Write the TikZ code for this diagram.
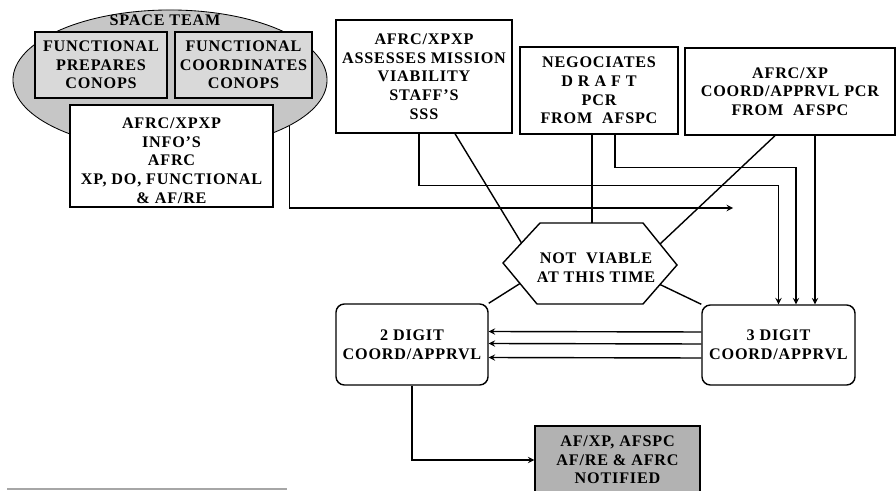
\documentclass[tikz,border=0pt]{standalone}
\usepackage{fontspec}
\setmainfont{Liberation Serif}[LetterSpace=5]
\usepackage{tikz}
\usetikzlibrary{calc, shapes.geometric, positioning}

\tikzset{
    box/.style={draw, line width=1pt, align=center, inner sep=1pt, fill=white},
    roundbox/.style={box, rounded corners=6pt},
    shadebox/.style={box, fill=gray!30},
    link/.style={line width=1pt},
}

\begin{document}
\begin{tikzpicture}[>=stealth, x=0.025cm, y=-0.025cm,
    font=\fontsize{11.5}{13.3}\selectfont\bfseries]
    \useasboundingbox (0,0) rectangle (896,491);

    % space team
    \node[ellipse, draw, line width=0.6pt, fill=gray!45, minimum width=7.85cm, minimum height=3.5cm] (team) at (170,80) {};
    \node (teamlbl) at (165,20) {SPACE TEAM};
    \node[shadebox, minimum width=3.3cm, minimum height=1.65cm] (fprep) at (101,65) {FUNCTIONAL\\PREPARES\\CONOPS};
    \node[shadebox, minimum width=3.425cm, minimum height=1.65cm] (fcoord) at (243.5,65) {FUNCTIONAL\\COORDINATES\\CONOPS};
    \node[box, minimum width=5.075cm, minimum height=2.55cm] (info) at (171.5,156) {\rule{0pt}{14pt}AFRC/XPXP\\INFO'S\\AFRC\\XP, DO, FUNCTIONAL\\\& AF/RE};

    % top row
    \node[box, minimum width=4.4cm, minimum height=2.825cm] (assess) at (424,76.5) {AFRC/XPXP\\ASSESSES MISSION\\VIABILITY\\STAFF'S\\SSS};
    \node[box, minimum width=3.95cm, minimum height=2.175cm] (nego) at (599,90.5) {NEGOCIATES\\D R A F T\\PCR\\FROM\ \ AFSPC};
    \node[box, minimum width=5.25cm, minimum height=2.175cm] (coord) at (790,91.5) {AFRC/XP\\COORD/APPRVL PCR\\FROM\ \ AFSPC};

    % not viable
    \coordinate (hxw) at (503,263);
    \coordinate (hxnw) at (540,223);
    \coordinate (hxne) at (643,223);
    \coordinate (hxe) at (677,265);
    \coordinate (hxse) at (643,304);
    \coordinate (hxsw) at (537,304);
    \draw[box] (hxw) -- (hxnw) -- (hxne) -- (hxe) -- (hxse) -- (hxsw) -- cycle;
    \node[align=center] (hex) at (596,268) {NOT\ \ VIABLE\\AT THIS TIME};

    % coordination
    \node[roundbox, minimum width=3.8cm, minimum height=2.025cm] (two) at (412,344.5) {2 DIGIT\\COORD/APPRVL};
    \node[roundbox, minimum width=3.825cm, minimum height=2cm] (three) at (778.5,345) {3 DIGIT\\COORD/APPRVL};
    \node[box, fill=gray!60, minimum width=4.125cm, minimum height=1.7cm] (notif) at (617.5,460) {AF/XP, AFSPC\\AF/RE \& AFRC\\NOTIFIED};

    % connectors
    \coordinate (arrtip) at (733,208);
    \draw[link, ->] (team.-21) |- (arrtip);

    \coordinate (t1) at (three.north);
    \coordinate (t2) at ([xshift=0.4375cm]three.north);
    \coordinate (t3) at ([xshift=0.9125cm]three.north);
    \draw[link, ->] ([xshift=-0.125cm]assess.south) -- ++(0,52) -| (t1);
    \draw[link, ->] ([xshift=0.4cm]nego.south) -- ++(0,33) -| (t2);
    \draw[link, ->] (coord.south -| t3) -- (t3);

    \coordinate (nv) at ([xshift=-0.175cm]nego.south);
    \draw[link] (nv) -- (nv |- hxnw);
    \draw[link] ([xshift=0.775cm]assess.south) -- ($(hxw)!0.5!(hxnw)$);
    \draw[link] ([xshift=-0.375cm]coord.south) -- ($(hxne)!0.5!(hxe)$);
    \draw[link] ($(hxw)!0.5!(hxsw)$) -- (two.north east);
    \draw[link] ($(hxe)!0.5!(hxse)$) -- (three.north west);

    \foreach \dy in {0.325, 0.025, -0.325}
        \draw[link, ->] ([yshift=\dy cm]three.west) -- ([yshift=\dy cm]two.east);
    \draw[link, ->] (two.south) |- (notif.west);

    \draw[gray!70, line width=0.8pt] (7,489) -- (287,489);
\end{tikzpicture}
\end{document}
